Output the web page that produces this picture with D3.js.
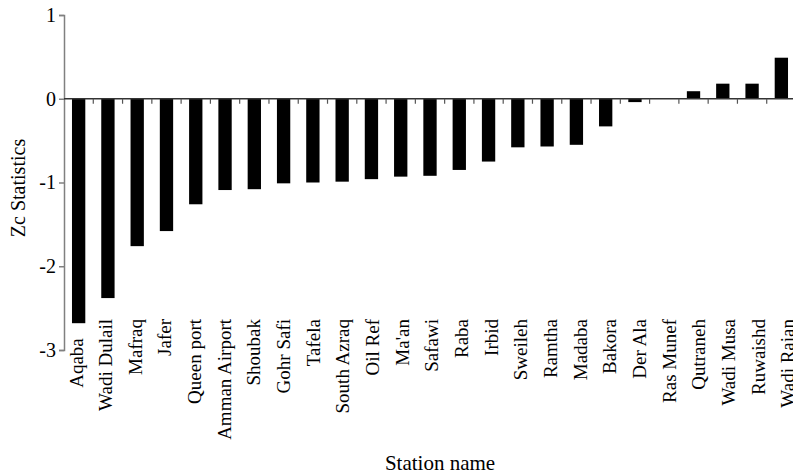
<!DOCTYPE html>
<html>
<head>
<meta charset="utf-8">
<script src="https://cdn.jsdelivr.net/npm/d3@7"></script>
<style>
  html, body { margin: 0; padding: 0; background: #fff; }
  svg { display: block; }
  text { font-family: "Liberation Serif", "Times New Roman", serif; fill: #000; }
</style>
</head>
<body>
<svg id="chart" width="793" height="475"></svg>
<script>
// Zc statistic per station
const stations = [
  "Aqaba", "Wadi Dulail", "Mafraq", "Jafer", "Queen port", "Amman Airport",
  "Shoubak", "Gohr Safi", "Tafela", "South Azraq", "Oil Ref", "Ma'an",
  "Safawi", "Raba", "Irbid", "Sweileh", "Ramtha", "Madaba", "Bakora",
  "Der Ala", "Ras Munef", "Qutraneh", "Wadi Musa", "Ruwaishd", "Wadi Raian"
];
const zc = [
  -2.68, -2.38, -1.76, -1.58, -1.26, -1.09,
  -1.08, -1.01, -1.00, -0.99, -0.96, -0.93,
  -0.92, -0.85, -0.75, -0.58, -0.57, -0.55, -0.33,
  -0.04, 0.00, 0.09, 0.18, 0.18, 0.49
];
const yTicks = [1, 0, -1, -2, -3];

const svg = d3.select("#chart");
const W = 793, H = 475;

const y = d3.scaleLinear().domain([-3, 1]).range([350, 15]);
const x = d3.scaleBand()
  .domain(stations)
  .range([64, 796])
  .paddingInner(0.545)
  .paddingOuter(0.2725);

// category labels are spread on a slightly wider band than the bars
const xLabel = d3.scaleBand()
  .domain(stations)
  .range([62, 803.3]);

const step = x.step();
const x0 = 64;

// bars
svg.append("g")
  .selectAll("rect")
  .data(stations)
  .join("rect")
  .attr("x", d => x(d))
  .attr("width", x.bandwidth())
  .attr("y", (d, i) => y(Math.max(0, zc[i])))
  .attr("height", (d, i) => Math.abs(y(zc[i]) - y(0)))
  .attr("fill", "#000");

// y axis
const yAxis = d3.axisLeft(y)
  .tickValues(yTicks)
  .tickFormat(d => String(d))
  .tickSize(5)
  .tickSizeOuter(5)
  .tickPadding(3);
const gy = svg.append("g")
  .attr("transform", `translate(${x0},0)`)
  .call(yAxis);
gy.select(".domain").attr("stroke", "#808080").attr("stroke-width", 1.5);
gy.selectAll(".tick line").attr("stroke", "#808080").attr("stroke-width", 1.5);
gy.selectAll(".tick text")
  .attr("font-size", 20)
  .attr("font-family", "Liberation Serif, serif")
  .attr("fill", "#000");

// zero line with tick marks at the category boundaries
const boundaries = d3.range(stations.length + 1).map(k => x0 + k * step);
svg.append("line")
  .attr("x1", x0).attr("x2", W)
  .attr("y1", y(0)).attr("y2", y(0))
  .attr("stroke", "#333").attr("stroke-width", 1.5);
svg.append("g")
  .selectAll("line")
  .data(boundaries.slice(1))
  .join("line")
  .attr("x1", d => d).attr("x2", d => d)
  .attr("y1", y(0)).attr("y2", y(0) + 5)
  .attr("stroke", "#555").attr("stroke-width", 1.2);

// station labels, vertical, ending below the plot (and below any bar reaching that far)
svg.append("g")
  .selectAll("text")
  .data(stations)
  .join("text")
  .attr("transform", (d, i) => {
    const top = Math.max(319, y(zc[i]) + 15);
    return `translate(${xLabel(d) + xLabel.bandwidth() / 2},${top}) rotate(-90)`;
  })
  .attr("dy", "0.3em")
  .attr("text-anchor", "end")
  .attr("font-size", 19)
  .text(d => d);

// axis titles
svg.append("text")
  .attr("transform", "translate(25,188) rotate(-90)")
  .attr("text-anchor", "middle")
  .attr("font-size", 20)
  .text("Zc Statistics");

svg.append("text")
  .attr("x", 440)
  .attr("y", 470)
  .attr("text-anchor", "middle")
  .attr("font-size", 21)
  .text("Station name");
</script>
</body>
</html>
